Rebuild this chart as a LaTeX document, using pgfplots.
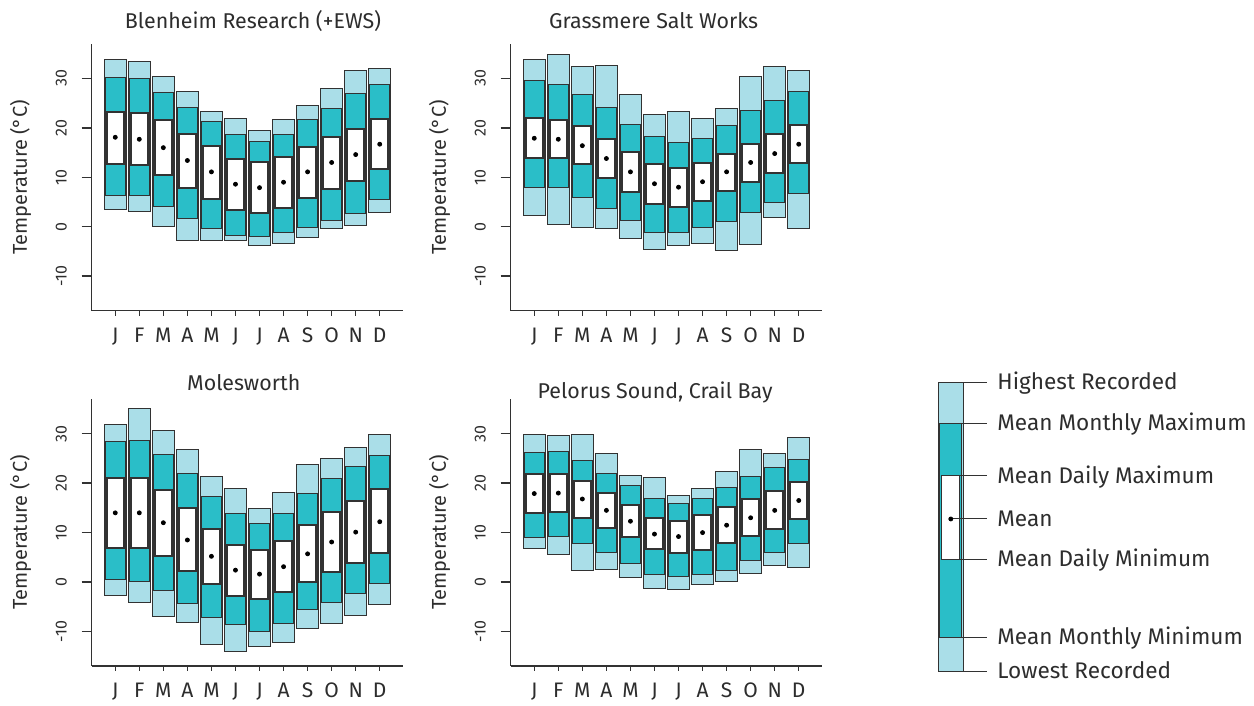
\documentclass[border=0pt]{standalone}
\usepackage{fontspec}
\setmainfont{Fira Sans}
\usepackage{pgfplots}
\pgfplotsset{compat=1.18}
\usepackage{pgfplotstable}
\usepgfplotslibrary{statistics}

\definecolor{lightb}{RGB}{170,222,232}
\definecolor{tealb}{RGB}{42,190,200}
\definecolor{edge}{RGB}{50,50,50}
\definecolor{txt}{RGB}{45,45,45}
\newcommand\fs[1]{\fontsize{#1}{#1}\selectfont}

% columns: lowest, mean monthly min, mean daily min, mean, mean daily max, mean monthly max, highest
\pgfplotstableread{
lo mmin dmin mean dmax mmax hi
3.4 6.3 12.7 18.1 23.3 30.3 33.9
3.1 6.4 12.4 17.7 23.1 29.9 33.4
0.0 4.1 10.4 16.0 21.5 27.1 30.4
-2.7 1.6 7.9 13.4 18.8 24.1 27.3
-2.7 -0.3 5.7 11.1 16.4 21.2 23.4
-2.8 -1.8 3.4 8.6 13.7 18.7 22.0
-3.8 -2.0 2.7 7.9 13.0 17.3 19.4
-3.4 -1.2 3.8 9.0 14.2 18.7 21.6
-2.2 -0.1 5.9 11.1 16.2 21.6 24.6
-0.4 1.2 7.7 13.0 18.2 24.0 27.9
0.2 2.6 9.3 14.6 19.7 26.9 31.6
2.8 5.6 11.7 16.7 21.9 28.7 32.0
}\blen

\pgfplotstableread{
lo mmin dmin mean dmax mmax hi
2.3 8.0 14.0 17.9 22.1 29.5 33.8
0.4 8.0 13.9 17.7 21.6 28.7 34.8
-0.2 5.9 12.6 16.4 20.4 26.8 32.5
-0.4 3.6 9.9 13.8 17.8 24.2 32.6
-2.4 1.2 7.1 11.1 15.1 20.7 26.7
-4.6 -1.1 4.6 8.7 12.7 18.2 22.8
-3.8 -1.1 4.0 8.0 11.9 17.0 23.4
-3.5 -0.2 5.3 9.1 12.8 17.9 21.9
-4.9 1.1 7.3 11.1 14.8 20.4 24.0
-3.6 2.9 9.1 13.0 16.8 23.5 30.4
1.8 4.9 10.8 14.8 18.8 25.5 32.4
-0.4 6.7 12.8 16.7 20.5 27.4 31.7
}\grass

\pgfplotstableread{
lo mmin dmin mean dmax mmax hi
-2.8 0.5 6.8 14.0 21.1 28.4 31.9
-4.1 0.1 6.8 14.0 21.1 28.6 35.1
-7.0 -1.7 5.3 12.0 18.6 25.9 30.6
-8.2 -4.4 2.2 8.5 14.9 21.9 26.9
-12.6 -7.2 -0.4 5.2 10.7 17.4 21.4
-14.0 -8.7 -2.8 2.4 7.5 13.8 18.9
-13.0 -10.0 -3.5 1.6 6.5 11.9 14.9
-12.2 -8.4 -2.1 3.1 8.2 13.9 18.2
-9.4 -5.5 0.0 5.7 11.6 18.0 23.8
-8.3 -4.1 2.1 8.1 14.1 21.0 25.0
-6.7 -2.4 3.9 10.1 16.4 23.4 27.2
-4.6 -0.3 5.8 12.2 18.9 25.7 29.9
}\moles

\pgfplotstableread{
lo mmin dmin mean dmax mmax hi
6.7 9.1 13.9 17.9 21.8 26.3 29.8
5.5 9.3 14.1 18.0 21.9 26.5 29.7
2.4 7.7 12.9 16.8 20.5 24.6 29.9
2.6 5.9 11.0 14.5 18.0 22.0 26.0
1.0 3.7 9.1 12.3 15.5 19.5 21.5
-1.4 1.6 6.6 9.7 12.9 16.9 21.1
-1.6 1.1 5.9 9.2 12.4 15.9 17.5
-0.5 1.6 6.4 10.0 13.6 16.9 19.0
0.2 2.4 7.8 11.5 15.1 19.1 22.4
1.8 4.3 9.3 13.0 16.8 21.3 26.8
3.4 5.9 10.7 14.5 18.4 23.2 26.1
3.0 7.8 12.7 16.5 20.3 24.7 29.3
}\pelor

\pgfplotsset{
  boxplot/draw direction=y,
  boxplot/draw/median/.code={},
  boxplot/draw/lower whisker/.code={},
  boxplot/draw/upper whisker/.code={},
  lbox/.style={boxplot/draw direction=y, boxplot/every box/.style={draw=edge, fill=lightb, line width=0.5pt}},
  tbox/.style={boxplot/draw direction=y, boxplot/every box/.style={draw=edge, fill=tealb, line width=0.5pt}},
  wbox/.style={boxplot/draw direction=y, boxplot/every box/.style={draw=edge, fill=white, line width=1pt}},
  wboxthin/.style={boxplot/draw direction=y, boxplot/every box/.style={draw=edge, fill=white, line width=0.5pt}},
  panel/.style={
    scale only axis, width=155.8pt, height=133.4pt,
    xmin=0.02, xmax=12.98, ymin=-17, ymax=37,
    axis lines*=left,
    axis line style={edge, line width=0.7pt},
    xtick={1,...,12}, xticklabels={J,F,M,A,M,J,J,A,S,O,N,D},
    ytick={-10,0,10,20,30},
    tick align=outside,
    major tick length=5pt,
    tick style={edge, line width=0.7pt},
    xtick style={/pgfplots/major tick length=2.5pt},
    /pgf/number format/assume math mode=true,
    yticklabel={\rotatebox{90}{\pgfmathprintnumber{\tick}}},
    yticklabel style={anchor=east, inner sep=0pt, xshift=-7.3pt, font=\fs{8}, text=txt},
    xticklabel style={font=\fs{10.5}, text=txt},
    ylabel={Temperature (°C)},
    ylabel style={at={(axis description cs:-0.228,0.5)}, anchor=center, font=\fs{10}, text=txt},
    title style={anchor=base, font=\fs{10.7}, text=txt},
    clip=false,
  },
}

% one box: style, position, lower edge, upper edge, width
\newcommand{\onebox}[5]{%
  \edef\tmpbox{\noexpand\addplot[#1, boxplot prepared={draw position=#2, lower whisker=#3, lower quartile=#3, median=#3, upper quartile=#4, upper whisker=#4, box extend=#5}] coordinates {};}%
  \tmpbox}

\newcommand{\drawpanel}[1]{%
  \pgfplotsinvokeforeach{0,...,11}{%
    \pgfplotstablegetelem{##1}{lo}\of{#1}\edef\vlo{\pgfplotsretval}%
    \pgfplotstablegetelem{##1}{mmin}\of{#1}\edef\vmmin{\pgfplotsretval}%
    \pgfplotstablegetelem{##1}{dmin}\of{#1}\edef\vdmin{\pgfplotsretval}%
    \pgfplotstablegetelem{##1}{dmax}\of{#1}\edef\vdmax{\pgfplotsretval}%
    \pgfplotstablegetelem{##1}{mmax}\of{#1}\edef\vmmax{\pgfplotsretval}%
    \pgfplotstablegetelem{##1}{hi}\of{#1}\edef\vhi{\pgfplotsretval}%
    \edef\vpos{\the\numexpr##1+1\relax}%
    \onebox{lbox}{\vpos}{\vlo}{\vhi}{0.9}%
    \onebox{tbox}{\vpos}{\vmmin}{\vmmax}{0.82}%
    \onebox{wbox}{\vpos}{\vdmin}{\vdmax}{0.7}%
  }
  \addplot[only marks, mark=*, mark size=1pt, black] table[x expr=\coordindex+1, y=mean] {#1};
}

\begin{document}
\begin{tikzpicture}
\useasboundingbox (0,0) rectangle (627pt,353pt);

\begin{axis}[panel, at={(45.85pt,197.65pt)}, anchor=south west,
  title={Blenheim Research (+EWS)}, title style={at={(axis description cs:0.5177,1)}, yshift=1.6pt}]
\drawpanel{\blen}
\end{axis}

\begin{axis}[panel, at={(255.35pt,197.65pt)}, anchor=south west,
  title={Grassmere Salt Works}, title style={at={(axis description cs:0.4587,1)}, yshift=1.6pt}]
\drawpanel{\grass}
\end{axis}

\begin{axis}[panel, at={(45.85pt,20pt)}, anchor=south west,
  title={Molesworth}, title style={at={(axis description cs:0.488,1)}, yshift=-1.75pt}]
\drawpanel{\moles}
\end{axis}

\begin{axis}[panel, at={(255.35pt,20pt)}, anchor=south west,
  title={Pelorus Sound, Crail Bay}, title style={at={(axis description cs:0.4635,1)}, yshift=-5.4pt}]
\drawpanel{\pelor}
\end{axis}

% legend key, in pixel units of the reference
\begin{axis}[scale only axis, width=177pt, height=173pt, at={(450pt,0pt)}, anchor=south west,
  xmin=900, xmax=1254, ymin=-706, ymax=-360, hide axis, clip=false]
\onebox{lbox}{950.8}{-671.7}{-382.7}{25}
\onebox{tbox}{950.8}{-637.3}{-424}{21.7}
\onebox{wboxthin}{950.8}{-559.3}{-475.3}{18.3}
\addplot[only marks, mark=*, mark size=1pt, black] coordinates {(950.8,-519)};
\addplot[edge, line width=0.5pt] coordinates {(963.3,-382.7) (987.3,-382.7)};
\addplot[edge, line width=0.5pt] coordinates {(961.7,-424) (987.3,-424)};
\addplot[edge, line width=0.5pt] coordinates {(960,-475.3) (987.3,-475.3)};
\addplot[edge, line width=0.5pt] coordinates {(950.8,-519) (987.3,-519)};
\addplot[edge, line width=0.5pt] coordinates {(960,-559.3) (987.3,-559.3)};
\addplot[edge, line width=0.5pt] coordinates {(961.7,-637.3) (987.3,-637.3)};
\addplot[edge, line width=0.5pt] coordinates {(963.3,-671.7) (987.3,-671.7)};
\begin{scope}[every node/.style={anchor=west, font=\fs{11.3}, text=txt, inner sep=0pt}]
\node at (axis cs:997,-383.3) {Highest Recorded};
\node at (axis cs:997,-424) {Mean Monthly Maximum};
\node at (axis cs:997,-476.7) {Mean Daily Maximum};
\node at (axis cs:997,-519) {Mean};
\node at (axis cs:997,-560) {Mean Daily Minimum};
\node at (axis cs:997,-638.3) {Mean Monthly Minimum};
\node at (axis cs:997,-670) {Lowest Recorded};
\end{scope}
\end{axis}
\end{tikzpicture}
\end{document}
